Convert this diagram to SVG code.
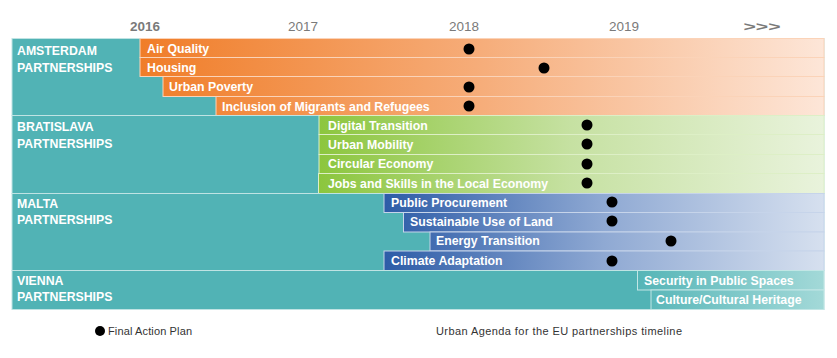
<svg xmlns="http://www.w3.org/2000/svg" width="837" height="358" viewBox="0 0 837 358">
<defs>
<linearGradient id="gO" gradientUnits="userSpaceOnUse" x1="140" y1="0" x2="824" y2="0">
<stop offset="0" stop-color="#F07D28"/><stop offset="0.5" stop-color="#F6AD7A"/><stop offset="1" stop-color="#FDE6D8"/>
</linearGradient>
<linearGradient id="gG" gradientUnits="userSpaceOnUse" x1="319" y1="0" x2="824" y2="0">
<stop offset="0" stop-color="#8CC63E"/><stop offset="0.5" stop-color="#C6E1A2"/><stop offset="1" stop-color="#E9F3DC"/>
</linearGradient>
<linearGradient id="gB" gradientUnits="userSpaceOnUse" x1="384" y1="0" x2="824" y2="0">
<stop offset="0" stop-color="#2D5CA7"/><stop offset="0.5" stop-color="#8FA9D3"/><stop offset="1" stop-color="#D6E0EF"/>
</linearGradient>
<linearGradient id="gT" gradientUnits="userSpaceOnUse" x1="637" y1="0" x2="824" y2="0">
<stop offset="0" stop-color="#55B5B7"/><stop offset="1" stop-color="#A3D9D8"/>
</linearGradient>
<style>
.panel{fill:#51B3B5;stroke:#BFE3E3;stroke-width:1}
.bo{fill:url(#gO);stroke:#FBD3B8;stroke-width:1}
.bg{fill:url(#gG);stroke:#DDEFC6;stroke-width:1}
.bb{fill:url(#gB);stroke:#C6D4EA;stroke-width:1}
.bt{fill:url(#gT);stroke:#C2E6E5;stroke-width:1}
.lbl{font-family:"Liberation Sans",Arial,sans-serif;font-weight:bold;font-size:12.3px;fill:#FFFFFF}
.grp{font-family:"Liberation Sans",Arial,sans-serif;font-weight:bold;font-size:12.3px;fill:#FFFFFF}
.yr{font-family:"Liberation Sans",Arial,sans-serif;font-size:13.5px;fill:#7A7A7A;text-anchor:middle}
.dot{fill:#000000}
.cap{font-family:"Liberation Sans",Arial,sans-serif;font-size:11px;fill:#333333}
</style>
</defs>
<g id="years">
<text class="yr" x="145" y="31" font-weight="bold" fill="#666">2016</text>
<text class="yr" x="303" y="31">2017</text>
<text class="yr" x="464" y="31">2018</text>
<text class="yr" x="624" y="31">2019</text>
<text class="yr" x="762" y="31" font-size="16" font-weight="bold" fill="#9A9A9A" textLength="37" lengthAdjust="spacingAndGlyphs">&gt;&gt;&gt;</text>
</g>
<g id="amsterdam">
<rect class="panel" x="12" y="38.5" width="812" height="77"/>
<text class="grp" x="17" y="55">AMSTERDAM</text>
<text class="grp" x="17" y="72">PARTNERSHIPS</text>
<g id="air-quality"><rect class="bo" x="140" y="38.5" width="684" height="19"/><text class="lbl" x="147" y="53">Air Quality</text><circle class="dot" cx="469" cy="49" r="5.5"/></g>
<g id="housing"><rect class="bo" x="140" y="57.5" width="684" height="19"/><text class="lbl" x="147" y="72">Housing</text><circle class="dot" cx="544" cy="68" r="5.5"/></g>
<g id="urban-poverty"><rect class="bo" x="163" y="76.5" width="661" height="20"/><text class="lbl" x="169" y="91">Urban Poverty</text><circle class="dot" cx="469" cy="87" r="5.5"/></g>
<g id="inclusion"><rect class="bo" x="216" y="96.5" width="608" height="19"/><text class="lbl" x="222" y="111">Inclusion of Migrants and Refugees</text><circle class="dot" cx="469" cy="106" r="5.5"/></g>
</g>
<g id="bratislava">
<rect class="panel" x="12" y="115.5" width="812" height="78"/>
<text class="grp" x="17" y="131">BRATISLAVA</text>
<text class="grp" x="17" y="148">PARTNERSHIPS</text>
<g id="digital-transition"><rect class="bg" x="319" y="115.5" width="505" height="19"/><text class="lbl" x="328" y="130">Digital Transition</text><circle class="dot" cx="587" cy="125" r="5.5"/></g>
<g id="urban-mobility"><rect class="bg" x="319" y="134.5" width="505" height="20"/><text class="lbl" x="328" y="149">Urban Mobility</text><circle class="dot" cx="587" cy="144" r="5.5"/></g>
<g id="circular-economy"><rect class="bg" x="319" y="154.5" width="505" height="19"/><text class="lbl" x="328" y="168">Circular Economy</text><circle class="dot" cx="587" cy="164" r="5.5"/></g>
<g id="jobs-skills"><rect class="bg" x="318.5" y="173.5" width="505.5" height="20"/><text class="lbl" x="328" y="188">Jobs and Skills in the Local Economy</text><circle class="dot" cx="587" cy="183" r="5.5"/></g>
</g>
<g id="malta">
<rect class="panel" x="12" y="193.5" width="812" height="77"/>
<text class="grp" x="17" y="208">MALTA</text>
<text class="grp" x="17" y="224">PARTNERSHIPS</text>
<g id="public-procurement"><rect class="bb" x="384" y="193.5" width="440" height="19"/><text class="lbl" x="391" y="207">Public Procurement</text><circle class="dot" cx="612" cy="202" r="5.5"/></g>
<g id="sustainable-land"><rect class="bb" x="403.5" y="212.5" width="420.5" height="19.5"/><text class="lbl" x="410" y="226">Sustainable Use of Land</text><circle class="dot" cx="612" cy="221" r="5.5"/></g>
<g id="energy-transition"><rect class="bb" x="430" y="232" width="394" height="19"/><text class="lbl" x="436" y="245">Energy Transition</text><circle class="dot" cx="671" cy="241" r="5.5"/></g>
<g id="climate-adaptation"><rect class="bb" x="384" y="251" width="440" height="19.5"/><text class="lbl" x="391" y="265">Climate Adaptation</text><circle class="dot" cx="612" cy="261" r="5.5"/></g>
</g>
<g id="vienna">
<rect class="panel" x="12" y="270.5" width="812" height="39"/>
<text class="grp" x="17" y="285">VIENNA</text>
<text class="grp" x="17" y="301">PARTNERSHIPS</text>
<g id="security"><rect class="bt" x="637.5" y="270.5" width="186.5" height="19.5"/><text class="lbl" x="644" y="285">Security in Public Spaces</text></g>
<g id="culture"><rect class="bt" x="651" y="290" width="173" height="19.5"/><text class="lbl" x="656" y="304">Culture/Cultural Heritage</text></g>
</g>
<g id="legend">
<circle class="dot" cx="100" cy="331" r="5"/>
<text class="cap" x="108" y="335" fill="#555" textLength="84">Final Action Plan</text>
<text class="cap" x="436" y="335" textLength="246">Urban Agenda for the EU partnerships timeline</text>
</g>
<g id="connectors"></g>
</svg>
